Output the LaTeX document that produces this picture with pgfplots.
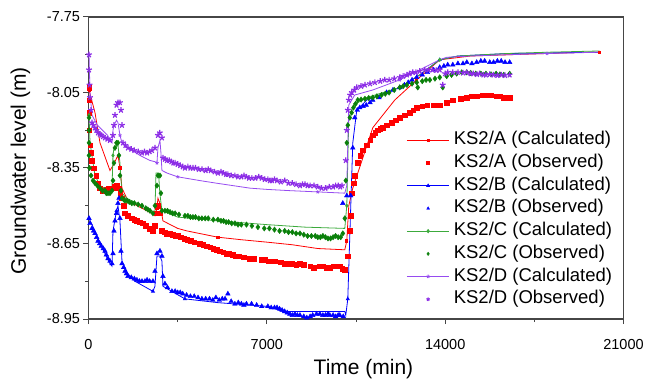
\documentclass[border=0pt]{standalone}
\usepackage{pgfplots}
\pgfplotsset{compat=1.18}
\usepackage{fontspec}
\setmainfont{Liberation Sans}
\definecolor{cA}{RGB}{255,0,0}
\definecolor{cB}{RGB}{0,0,255}
\definecolor{cCo}{RGB}{10,128,10}
\definecolor{cCc}{RGB}{60,170,60}
\definecolor{cDo}{RGB}{140,45,230}
\definecolor{cDc}{RGB}{150,75,240}
\definecolor{axc}{RGB}{70,70,70}
\begin{document}
\begin{tikzpicture}
\useasboundingbox (-88.5bp,-63bp) rectangle (557.5bp,319bp);
\begin{axis}[
  scale only axis, width=535bp, height=302bp,
  xmin=0, xmax=21000, ymin=-8.95, ymax=-7.75,
  xtick={0,7000,14000,21000}, xticklabels={0,7000,14000,21000},
  minor xtick={3500,10500,17500},
  ytick={-8.95,-8.65,-8.35,-8.05,-7.75},
  yticklabels={-8.95,-8.65,-8.35,-8.05,-7.75},
  minor ytick={-8.8,-8.5,-8.2,-7.9},
  scaled x ticks=false, scaled y ticks=false,
  tick align=outside, xtick pos=left, ytick pos=left,
  major tick length=5bp, minor tick length=3bp,
  tick style={axc, line width=1bp},
  axis line style={axc, line width=1.2bp},
  tick label style={font=\fontsize{14.5bp}{16bp}\selectfont},
  xticklabel style={yshift=-12bp},
  xlabel={Time (min)}, ylabel={Groundwater level (m)},
  label style={font=\fontsize{21bp}{24bp}\selectfont},
  xlabel style={at={(axis description cs:0.514,-0.185)}, anchor=base},
  ylabel style={at={(axis description cs:-0.127,0.49)}, anchor=center},
  legend image code/.code={\draw[mark repeat=2,mark phase=2,#1] plot coordinates {(0cm,0cm) (0.75cm,0cm) (1.5cm,0cm)};},
  legend style={draw=none, fill=none, at={(axis description cs:0.594,0.627)}, anchor=north west,
    font=\fontsize{18.5bp}{20bp}\selectfont, inner sep=0pt, row sep=1.7bp, column sep=3bp,
    nodes={inner sep=1bp, text height=14bp, text depth=5bp}},
  legend cell align=left,
]
% KS2/A calculated
\addplot[cA, line width=0.8bp, mark=square*, mark size=1.1bp, mark repeat=6, mark options={solid}] coordinates {
(20,-8.04) (255,-8.13) (451,-8.25) (843,-8.36) (961,-8.34) (1157,-8.30) (1235,-8.35) (1314,-8.43) (1549,-8.48) (2098,-8.51) (2490,-8.53) (2608,-8.54) (2687,-8.51) (2726,-8.47) (2804,-8.49) (2922,-8.56) (3500,-8.59) (3863,-8.60) (5079,-8.625) (6000,-8.635) (7040,-8.645) (8000,-8.655) (9000,-8.67) (10060,-8.675) (10138,-8.64) (10217,-8.50) (10374,-8.43) (10766,-8.31) (11158,-8.19) (12021,-8.08) (12884,-8.00) (13786,-7.92) (15000,-7.905) (16500,-7.90) (18000,-7.895) (19552,-7.89) (20061,-7.89)};
\addlegendentry{KS2/A (Calculated)}
% KS2/A observed
\addplot[cA, only marks, mark=square*, mark size=2.3bp, legend image post style={mark size=1.5bp}] coordinates {
(20,-8.03) (20,-8.08) (20,-8.13) (20,-8.20) (60,-8.26) (100,-8.29) (137,-8.32) (200,-8.35) (300,-8.38) (380,-8.41) (451,-8.43) (550,-8.44) (647,-8.44) (720,-8.435) (800,-8.43) (880,-8.43) (961,-8.43) (1030,-8.425) (1100,-8.42) (1196,-8.43) (1250,-8.45) (1314,-8.47) (1380,-8.50) (1432,-8.53) (1550,-8.54) (1700,-8.55) (1800,-8.555) (1900,-8.56) (2020,-8.565) (2137,-8.57) (2250,-8.58) (2412,-8.59) (2530,-8.60) (2608,-8.58) (2687,-8.53) (2726,-8.50) (2804,-8.53) (2883,-8.60) (2980,-8.605) (3079,-8.61) (3200,-8.61) (3300,-8.615) (3400,-8.62) (3500,-8.62) (3620,-8.625) (3750,-8.63) (3870,-8.635) (4000,-8.64) (4150,-8.645) (4373,-8.65) (4500,-8.655) (4650,-8.66) (4780,-8.665) (4900,-8.67) (5030,-8.675) (5150,-8.68) (5280,-8.685) (5400,-8.69) (5520,-8.69) (5650,-8.695) (5780,-8.70) (5900,-8.70) (6100,-8.705) (6334,-8.71) (6500,-8.71) (6800,-8.715) (6930,-8.715) (7050,-8.72) (7180,-8.72) (7300,-8.72) (7550,-8.725) (7680,-8.73) (7800,-8.73) (8000,-8.73) (8150,-8.735) (8295,-8.73) (8450,-8.735) (8700,-8.74) (8850,-8.745) (9080,-8.74) (9200,-8.74) (9350,-8.745) (9472,-8.745) (9600,-8.74) (9700,-8.74) (9864,-8.74) (9960,-8.75) (10060,-8.755) (10178,-8.70) (10256,-8.60) (10290,-8.54) (10334,-8.45) (10400,-8.41) (10452,-8.38) (10570,-8.33) (10660,-8.30) (10766,-8.28) (10923,-8.26) (11050,-8.24) (11158,-8.22) (11250,-8.21) (11350,-8.20) (11450,-8.195) (11551,-8.19) (11700,-8.18) (11900,-8.17) (12050,-8.16) (12217,-8.15) (12400,-8.14) (12600,-8.13) (12750,-8.12) (12884,-8.11) (13100,-8.105) (13300,-8.10) (13550,-8.10) (13786,-8.10) (14050,-8.09) (14300,-8.08) (14600,-8.075) (14845,-8.07) (15050,-8.065) (15237,-8.065) (15450,-8.06) (15629,-8.06) (15800,-8.06) (16000,-8.065) (16150,-8.065) (16300,-8.07) (16531,-8.07)};
\addlegendentry{KS2/A (Observed)}
% KS2/B calculated
\addplot[cB, line width=0.8bp, mark=triangle*, mark size=1.6bp, mark repeat=6, mark options={solid}] coordinates {
(20,-8.55) (255,-8.60) (500,-8.66) (843,-8.73) (922,-8.74) (961,-8.60) (1100,-8.52) (1157,-8.50) (1235,-8.56) (1314,-8.72) (1549,-8.77) (1824,-8.80) (2530,-8.84) (2608,-8.82) (2687,-8.70) (2804,-8.70) (2883,-8.72) (2922,-8.82) (3785,-8.87) (5079,-8.885) (7040,-8.90) (7628,-8.92) (10060,-8.92) (10099,-8.935) (10178,-8.87) (10374,-8.25) (10530,-8.12) (10923,-8.08) (12217,-8.03) (13000,-7.98) (13786,-7.92) (14500,-7.905) (16453,-7.895) (18000,-7.893) (20061,-7.89)};
\addlegendentry{KS2/B (Calculated)}
% KS2/B observed
\addplot[cB, only marks, mark=triangle*, mark size=2.7bp, legend image post style={mark size=1.7bp}] coordinates {
(20,-8.55) (60,-8.57) (137,-8.59) (200,-8.60) (255,-8.61) (320,-8.625) (373,-8.64) (440,-8.65) (500,-8.66) (580,-8.67) (647,-8.68) (700,-8.695) (765,-8.71) (843,-8.72) (922,-8.73) (961,-8.69) (1000,-8.60) (1039,-8.56) (1100,-8.53) (1157,-8.49) (1196,-8.47) (1235,-8.55) (1274,-8.68) (1314,-8.73) (1380,-8.745) (1432,-8.76) (1490,-8.77) (1549,-8.78) (1680,-8.785) (1800,-8.79) (1900,-8.795) (2000,-8.80) (2100,-8.80) (2216,-8.80) (2300,-8.795) (2400,-8.80) (2530,-8.80) (2608,-8.76) (2687,-8.69) (2804,-8.68) (2883,-8.70) (2922,-8.78) (3000,-8.81) (3100,-8.825) (3275,-8.84) (3400,-8.84) (3500,-8.845) (3600,-8.845) (3700,-8.85) (3850,-8.855) (4000,-8.86) (4150,-8.86) (4300,-8.865) (4452,-8.87) (4600,-8.87) (4750,-8.87) (4880,-8.875) (5000,-8.865) (5130,-8.875) (5250,-8.87) (5360,-8.87) (5471,-8.85) (5600,-8.88) (5746,-8.89) (5880,-8.885) (6000,-8.89) (6100,-8.895) (6200,-8.89) (6400,-8.89) (6600,-8.895) (6800,-8.90) (7040,-8.90) (7170,-8.905) (7300,-8.905) (7400,-8.905) (7500,-8.91) (7600,-8.915) (7700,-8.92) (7800,-8.925) (7903,-8.93) (8000,-8.935) (8100,-8.93) (8200,-8.935) (8300,-8.935) (8450,-8.94) (8570,-8.945) (8700,-8.94) (8800,-8.935) (8950,-8.93) (9080,-8.93) (9200,-8.935) (9300,-8.935) (9400,-8.93) (9472,-8.935) (9600,-8.935) (9700,-8.94) (9800,-8.935) (9864,-8.935) (10000,-8.94) (9982,-8.49) (10138,-8.46) (10295,-8.46) (10374,-8.27) (10452,-8.15) (10550,-8.12) (10648,-8.11) (10780,-8.105) (10900,-8.10) (11050,-8.09) (11158,-8.08) (11400,-8.07) (11700,-8.05) (11950,-8.04) (12217,-8.03) (12400,-8.02) (12550,-8.01) (12700,-8.00) (12884,-7.99) (13100,-7.98) (13300,-7.97) (13550,-7.96) (13786,-7.95) (13950,-7.945) (14100,-7.94) (14300,-7.94) (14500,-7.935) (14700,-7.935) (14850,-7.93) (15050,-7.935) (15237,-7.93) (15400,-7.925) (15550,-7.925) (15750,-7.93) (15900,-7.93) (16050,-7.925) (16200,-7.925) (16350,-7.93) (16531,-7.93)};
\addlegendentry{KS2/B (Observed)}
% KS2/C calculated
\addplot[cCc, line width=0.8bp, mark=diamond*, mark size=1.6bp, mark repeat=6, mark options={solid}] coordinates {
(20,-8.14) (60,-8.25) (255,-8.38) (451,-8.42) (800,-8.44) (922,-8.43) (961,-8.30) (1000,-8.27) (1157,-8.26) (1235,-8.33) (1314,-8.45) (1500,-8.47) (2098,-8.50) (2530,-8.53) (2608,-8.52) (2650,-8.37) (2750,-8.37) (2800,-8.45) (2883,-8.52) (3500,-8.545) (5079,-8.56) (7000,-8.575) (8500,-8.585) (10060,-8.59) (10138,-8.50) (10217,-8.15) (10400,-8.10) (10923,-8.07) (12217,-8.03) (13000,-7.98) (13786,-7.92) (14500,-7.905) (16453,-7.895) (18000,-7.89) (20061,-7.885)};
\addlegendentry{KS2/C (Calculated)}
% KS2/C observed
\addplot[cCo, only marks, mark=diamond*, mark size=2.7bp, legend image post style={mark size=1.7bp}] coordinates {
(20,-8.15) (20,-8.20) (20,-8.25) (20,-8.30) (40,-8.35) (100,-8.38) (180,-8.40) (255,-8.41) (350,-8.42) (451,-8.43) (550,-8.44) (647,-8.44) (700,-8.45) (765,-8.45) (843,-8.45) (922,-8.44) (961,-8.40) (1000,-8.33) (1039,-8.27) (1100,-8.25) (1157,-8.25) (1196,-8.30) (1235,-8.38) (1274,-8.44) (1314,-8.47) (1380,-8.475) (1432,-8.48) (1520,-8.48) (1600,-8.485) (1700,-8.49) (1800,-8.49) (1950,-8.495) (2098,-8.50) (2250,-8.51) (2330,-8.515) (2412,-8.52) (2530,-8.53) (2608,-8.50) (2687,-8.42) (2726,-8.38) (2804,-8.38) (2844,-8.45) (2883,-8.52) (3000,-8.52) (3100,-8.52) (3200,-8.525) (3300,-8.53) (3400,-8.53) (3550,-8.535) (3785,-8.54) (3900,-8.54) (4000,-8.545) (4100,-8.545) (4200,-8.545) (4330,-8.55) (4450,-8.55) (4580,-8.55) (4700,-8.55) (4900,-8.555) (5079,-8.555) (5200,-8.56) (5300,-8.56) (5400,-8.565) (5500,-8.565) (5620,-8.57) (5750,-8.57) (5870,-8.575) (6000,-8.575) (6200,-8.575) (6413,-8.58) (6650,-8.585) (6900,-8.59) (7100,-8.59) (7300,-8.595) (7500,-8.60) (7700,-8.60) (7850,-8.605) (8000,-8.605) (8150,-8.61) (8300,-8.61) (8450,-8.615) (8600,-8.62) (8750,-8.62) (8900,-8.62) (9000,-8.625) (9100,-8.625) (9200,-8.62) (9300,-8.625) (9400,-8.63) (9500,-8.63) (9600,-8.625) (9700,-8.62) (9800,-8.625) (9900,-8.625) (9982,-8.61) (10060,-8.55) (10099,-8.40) (10138,-8.25) (10178,-8.18) (10256,-8.15) (10330,-8.13) (10400,-8.11) (10480,-8.095) (10570,-8.08) (10700,-8.078) (10850,-8.075) (11000,-8.072) (11158,-8.07) (11320,-8.065) (11500,-8.06) (11650,-8.055) (11800,-8.05) (12000,-8.04) (12217,-8.03) (12350,-8.025) (12500,-8.02) (12700,-8.015) (12884,-8.01) (12923,-8.03) (13100,-8.005) (13250,-8.00) (13400,-8.00) (13600,-7.995) (13786,-7.99) (13904,-8.03) (14061,-7.985) (14250,-7.98) (14450,-7.975) (14650,-7.97) (14845,-7.97) (15000,-7.972) (15200,-7.975) (15400,-7.975) (15600,-7.975) (15800,-7.978) (16000,-7.975) (16150,-7.978) (16300,-7.98) (16530,-7.975)};
\addlegendentry{KS2/C (Observed)}
% KS2/D calculated
\addplot[cDc, line width=0.8bp, mark=star, mark size=1.8bp, mark repeat=6, mark options={solid}] coordinates {
(20,-7.90) (60,-8.05) (137,-8.14) (350,-8.18) (550,-8.20) (750,-8.22) (843,-8.24) (922,-8.25) (961,-8.20) (1000,-8.18) (1100,-8.16) (1157,-8.17) (1235,-8.22) (1314,-8.25) (1549,-8.27) (2020,-8.30) (2412,-8.32) (2608,-8.325) (2687,-8.33) (2726,-8.27) (2804,-8.24) (2844,-8.29) (2883,-8.36) (3079,-8.37) (3500,-8.385) (4373,-8.40) (5000,-8.41) (6334,-8.43) (7000,-8.435) (7903,-8.44) (9000,-8.445) (10060,-8.45) (10138,-8.42) (10217,-8.10) (10450,-8.06) (11158,-8.04) (12217,-8.00) (13000,-7.96) (13786,-7.92) (14061,-7.91) (15000,-7.905) (16453,-7.90) (18000,-7.895) (20061,-7.89)};
\addlegendentry{KS2/D (Calculated)}
% KS2/D observed
\addplot[cDo, only marks, mark=star, mark size=3bp, mark options={line width=1.2bp}, legend image post style={mark size=1.8bp}] coordinates {
(20,-7.90) (20,-7.96) (40,-8.02) (60,-8.07) (100,-8.12) (137,-8.17) (190,-8.18) (250,-8.19) (310,-8.20) (373,-8.21) (440,-8.215) (500,-8.22) (570,-8.225) (647,-8.23) (740,-8.235) (843,-8.24) (961,-8.22) (1000,-8.18) (1039,-8.14) (1100,-8.10) (1157,-8.09) (1235,-8.09) (1274,-8.12) (1314,-8.18) (1353,-8.25) (1450,-8.26) (1549,-8.27) (1680,-8.275) (1800,-8.28) (1950,-8.285) (2098,-8.29) (2200,-8.285) (2300,-8.29) (2400,-8.285) (2490,-8.28) (2608,-8.27) (2726,-8.22) (2800,-8.21) (2883,-8.23) (2922,-8.31) (3000,-8.315) (3079,-8.32) (3170,-8.32) (3250,-8.325) (3330,-8.33) (3400,-8.33) (3500,-8.335) (3600,-8.34) (3700,-8.345) (3785,-8.35) (3900,-8.345) (4000,-8.35) (4100,-8.35) (4200,-8.35) (4330,-8.355) (4452,-8.355) (4600,-8.36) (4700,-8.355) (4800,-8.36) (4950,-8.365) (5079,-8.37) (5200,-8.365) (5300,-8.37) (5400,-8.375) (5471,-8.375) (5600,-8.38) (5746,-8.38) (5870,-8.385) (6000,-8.385) (6100,-8.38) (6200,-8.385) (6300,-8.39) (6413,-8.39) (6550,-8.39) (6680,-8.385) (6800,-8.39) (6920,-8.395) (7040,-8.395) (7120,-8.40) (7200,-8.40) (7300,-8.395) (7400,-8.40) (7550,-8.405) (7707,-8.40) (7850,-8.41) (8000,-8.41) (8150,-8.415) (8300,-8.42) (8400,-8.415) (8500,-8.415) (8600,-8.42) (8700,-8.42) (8850,-8.42) (9000,-8.425) (9150,-8.43) (9300,-8.43) (9450,-8.425) (9600,-8.425) (9700,-8.42) (9800,-8.42) (9880,-8.425) (9950,-8.42) (10100,-8.32) (10138,-8.20) (10178,-8.12) (10217,-8.08) (10270,-8.06) (10334,-8.05) (10430,-8.04) (10530,-8.03) (10700,-8.025) (10850,-8.02) (11050,-8.015) (11240,-8.01) (11450,-8.005) (11630,-8.00) (11800,-8.00) (12000,-7.995) (12217,-7.99) (12350,-7.985) (12500,-7.98) (12600,-7.975) (12727,-7.97) (12850,-7.97) (13000,-7.965) (13200,-7.96) (13350,-7.96) (13500,-7.96) (13650,-7.962) (13786,-7.96) (13904,-8.02) (14000,-7.975) (14100,-7.97) (14300,-7.97) (14500,-7.97) (14700,-7.972) (14845,-7.97) (15000,-7.975) (15100,-7.975) (15250,-7.978) (15350,-7.975) (15500,-7.98) (15600,-7.98) (15750,-7.978) (15900,-7.98) (16050,-7.982) (16200,-7.98) (16350,-7.982) (16530,-7.98)};
\addlegendentry{KS2/D (Observed)}
\end{axis}
\end{tikzpicture}
\end{document}
